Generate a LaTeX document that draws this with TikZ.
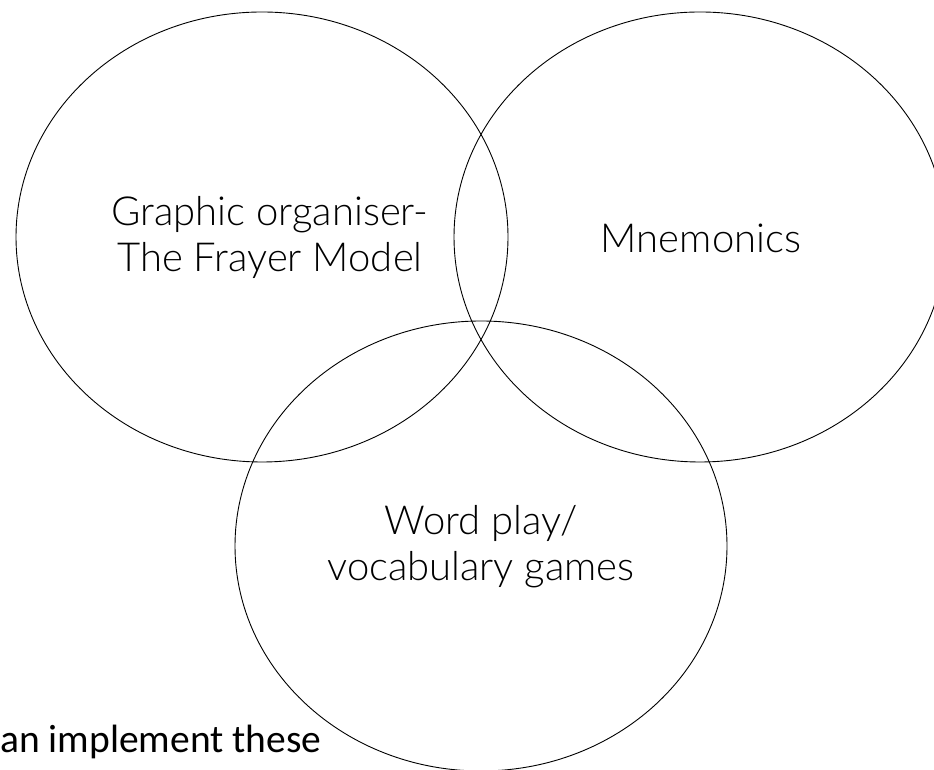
\documentclass[tikz,border=0pt]{standalone}
\usepackage{fontspec}
\setmainfont{Carlito}
\newfontfamily\latolight{Lato Light}
\usetikzlibrary{shapes.geometric}
\tikzset{
  venn/.style={ellipse, draw=black, line width=0.9pt, minimum width=492pt, minimum height=450pt, inner sep=0pt},
  label/.style={font=\latolight\fontsize{40}{46}\selectfont, align=center, inner sep=0pt, anchor=base},
}
\begin{document}
\begin{tikzpicture}[x=1pt,y=1pt]
\useasboundingbox (0,0) rectangle (934,770);
\node[venn] (left) at (262,533) {};
\node[venn] (right) at (700,533) {};
\node[venn] (bottom) at (481,224) {};
\node[label] (t1) at (270,498) {Graphic organiser-\\The Frayer Model};
\node[label] (t2) at (701,517) {Mnemonics};
\node[label] (t3) at (481,189) {Word play/\\vocabulary games};
\node[font=\fontsize{39.5}{46}\selectfont, inner sep=0pt, anchor=base west] (t4) at (0,17) {an implement these};
\end{tikzpicture}
\end{document}
